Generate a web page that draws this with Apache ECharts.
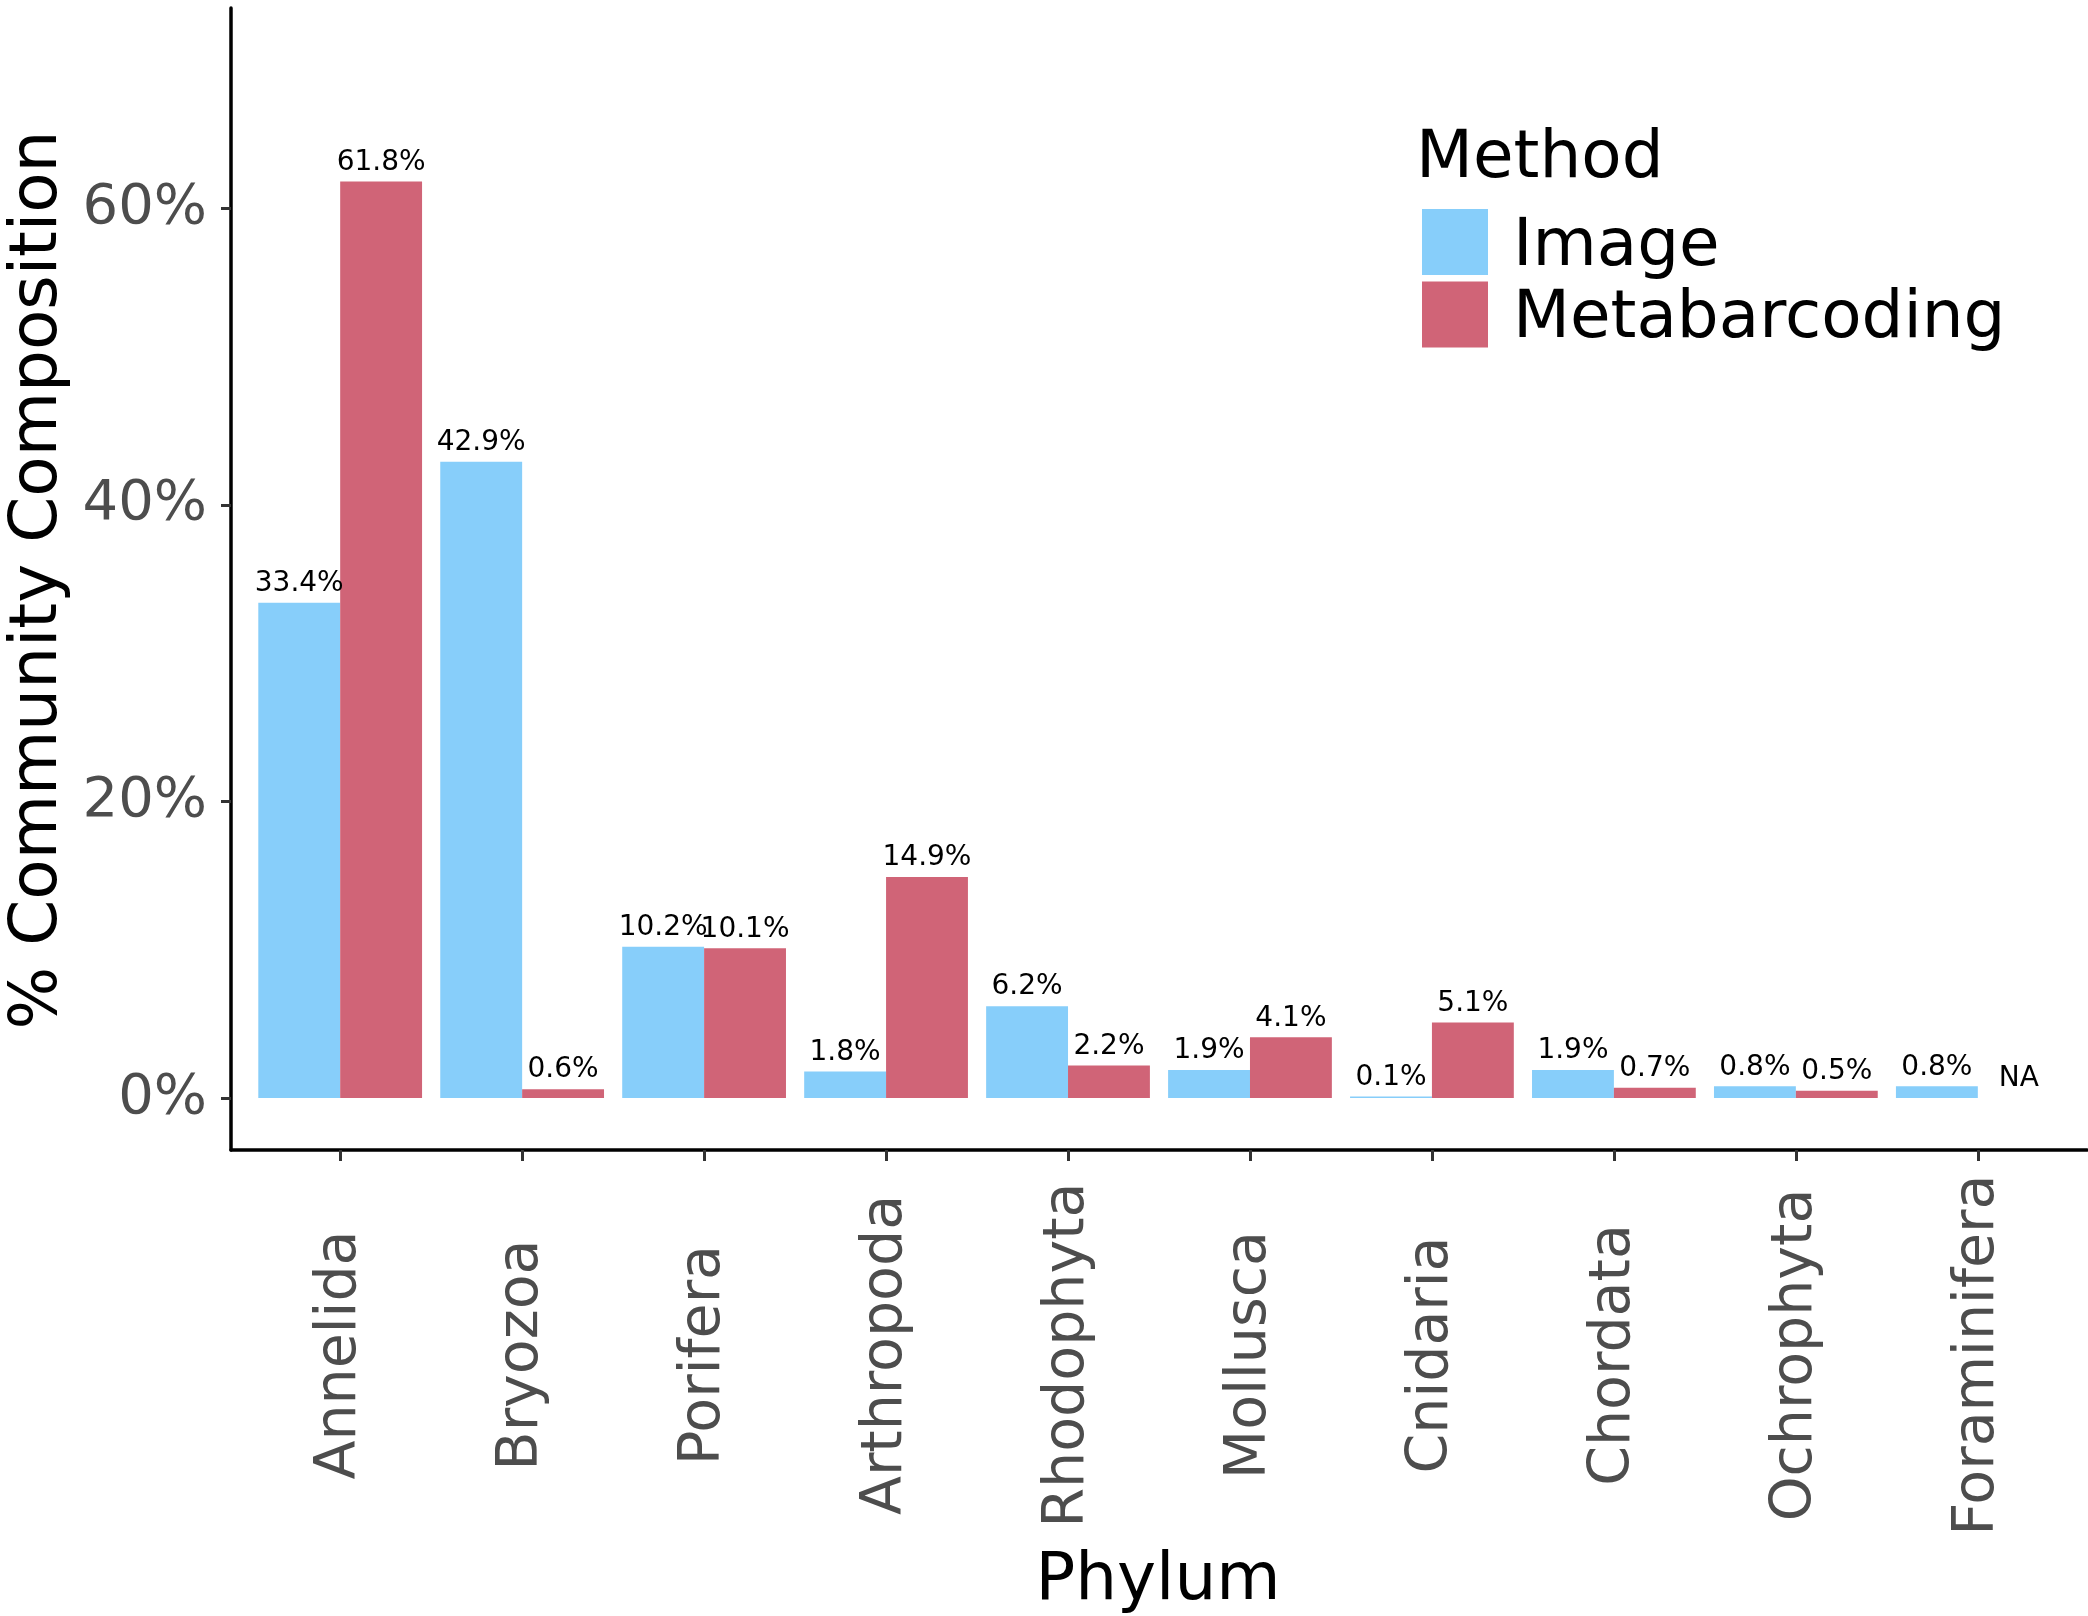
<!DOCTYPE html>
<html>
<head>
<meta charset="utf-8">
<script src="https://cdn.jsdelivr.net/npm/echarts@6/dist/echarts.min.js"></script>
<style>
html,body{margin:0;padding:0;background:#fff;}
#chart{width:2088px;height:1616px;}
</style>
</head>
<body>
<div id="chart"></div>
<script>
const categories = ['Annelida','Bryozoa','Porifera','Arthropoda','Rhodophyta','Mollusca','Cnidaria','Chordata','Ochrophyta','Foraminifera'];
const imageValues = [33.4, 42.9, 10.2, 1.8, 6.2, 1.9, 0.1, 1.9, 0.8, 0.8];
const metabarcodingValues = [61.8, 0.6, 10.1, 14.9, 2.2, 4.1, 5.1, 0.7, 0.5, null];
const yTicks = [0, 20, 40, 60];
const seriesNames = ['Image', 'Metabarcoding'];

const FONT = 'DejaVu Sans';
const Y_MIN = -3.5, Y_MAX = 73.5;
function toData(arr) {
  return arr.map(v => v === null ? { value: 0, label: { formatter: 'NA' } } : v);
}
const labelCfg = {
  show: true, position: 'top', distance: 5,
  fontFamily: FONT, fontSize: 28, color: '#000',
  formatter: p => Number(p.value).toFixed(1) + '%'
};

// panel: x 231..2087; categories padded by 0.6 unit each side (ggplot style)
const PANEL_L = 231, PANEL_R = 2087;
const unit = (PANEL_R - PANEL_L) / (categories.length + 0.2);
const innerPad = 0.1 * unit;

const chart = echarts.init(document.getElementById('chart'), null, { renderer: 'canvas' });
chart.setOption({
  backgroundColor: '#fff',
  animation: false,
  textStyle: { fontFamily: FONT },
  grid: [
    { left: PANEL_L, right: 2088 - PANEL_R, top: 8, bottom: 466, containLabel: false },
    { left: PANEL_L + innerPad, right: 2088 - PANEL_R + innerPad, top: 8, bottom: 466, containLabel: false }
  ],
  legend: {
    orient: 'vertical', left: 1422, top: 209, padding: 0,
    itemWidth: 66, itemHeight: 66, itemGap: 1,
    icon: 'rect',
    data: seriesNames,
    formatter: '{t|{name}}',
    textStyle: {
      fontFamily: FONT, fontSize: 66, color: '#000',
      rich: { t: { fontFamily: FONT, fontSize: 66, color: '#000', padding: [11, 0, 0, 20] } }
    }
  },
  xAxis: [
    {
      gridIndex: 0, type: 'value', min: 0, max: 1,
      axisLine: { show: true, onZero: false, lineStyle: { color: '#000', width: 3.5 } },
      axisTick: { show: false }, axisLabel: { show: false }, splitLine: { show: false }
    },
    {
      gridIndex: 1, type: 'category', data: categories,
      axisLine: { show: false, onZero: false },
      axisTick: { show: true, alignWithLabel: true, length: 11, lineStyle: { color: '#333', width: 3 } },
      axisLabel: {
        interval: 0, rotate: 90, align: 'center', verticalAlign: 'middle', margin: 205,
        fontFamily: FONT, fontSize: 57, color: '#4D4D4D'
      },
      splitLine: { show: false }
    }
  ],
  yAxis: [
    {
      gridIndex: 0, type: 'value', min: Y_MIN, max: Y_MAX,
      axisLine: { show: true, onZero: false, lineStyle: { color: '#000', width: 3.5 } },
      axisTick: { show: true, length: 10, customValues: yTicks, lineStyle: { color: '#333', width: 3 } },
      axisLabel: {
        customValues: yTicks, margin: 24,
        fontFamily: FONT, fontSize: 56, color: '#4D4D4D',
        formatter: v => v + '%'
      },
      splitLine: { show: false }
    },
    {
      gridIndex: 1, type: 'value', min: Y_MIN, max: Y_MAX, show: false,
      splitLine: { show: false }
    }
  ],
  series: [
    { name: seriesNames[0], type: 'bar', xAxisIndex: 1, yAxisIndex: 1, data: toData(imageValues),
      barGap: '0%', barCategoryGap: '10%', itemStyle: { color: '#87CEFA' }, label: labelCfg },
    { name: seriesNames[1], type: 'bar', xAxisIndex: 1, yAxisIndex: 1, data: toData(metabarcodingValues),
      barGap: '0%', barCategoryGap: '10%', itemStyle: { color: '#D06477' }, label: labelCfg }
  ],
  graphic: [
    { type: 'text', x: 39, y: 580, rotation: Math.PI / 2,
      style: { text: '% Community Composition', fontFamily: FONT, fontSize: 66, fill: '#000', align: 'center', verticalAlign: 'middle' } },
    { type: 'text', x: 1158, y: 1582,
      style: { text: 'Phylum', fontFamily: FONT, fontSize: 66, fill: '#000', align: 'center', verticalAlign: 'middle' } },
    { type: 'text', x: 1416, y: 160,
      style: { text: 'Method', fontFamily: FONT, fontSize: 66, fill: '#000', align: 'left', verticalAlign: 'middle' } }
  ]
});
</script>
</body>
</html>
